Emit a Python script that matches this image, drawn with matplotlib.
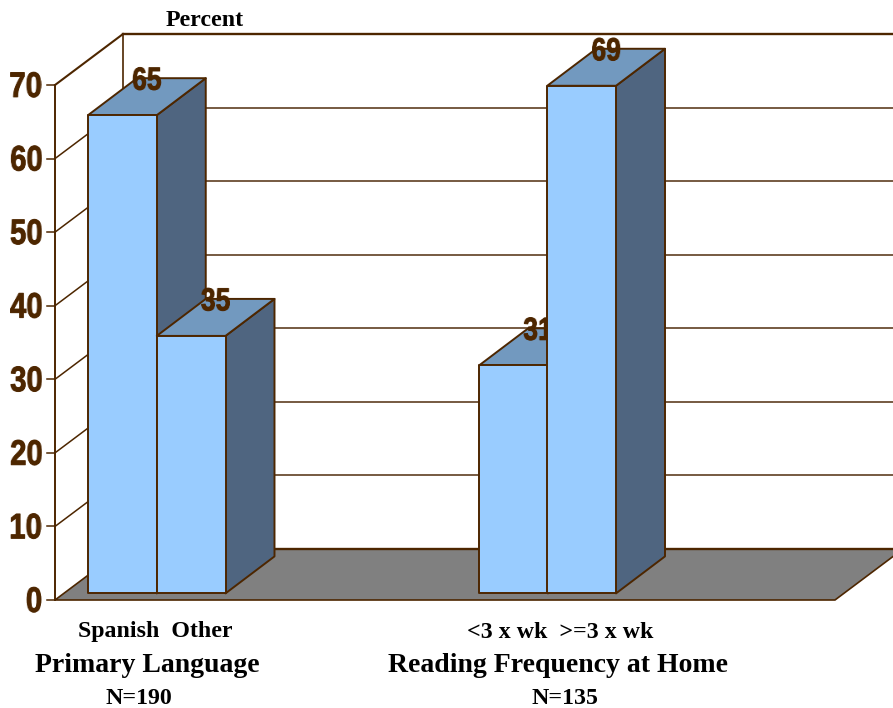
import numpy as np
import matplotlib
matplotlib.use("Agg")
import matplotlib.pyplot as plt
import matplotlib.patheffects as pe
from matplotlib.colors import to_rgb
from matplotlib.patches import Polygon

# Chart data
categories = ["Spanish", "Other", "<3 x wk", ">=3 x wk"]
values = [65, 35, 31, 69]
bar_positions = [0.0, 1.0, 5.69, 6.68]
y_ticks = [0, 10, 20, 30, 40, 50, 60, 70]
group_titles = ["Primary Language", "Reading Frequency at Home"]
group_sizes = ["N=190", "N=135"]

W, H = 893, 708
PX_X = 68.75    # pixels per bar width
PX_Y = 7.357    # pixels per percentage point
ORIGIN_X, ORIGIN_Y = 88, 600

# 3D projection offsets, in data units
WALL_DX, WALL_DY = 68 / PX_X, 51 / PX_Y
BAR_DX, BAR_DY = 49 / PX_X, 37 / PX_Y
BAR_LIFT = 6.6 / PX_Y
WALL_X = (55 - ORIGIN_X) / PX_X
FLOOR_END = (835 - ORIGIN_X) / PX_X

BROWN = "#4D2600"
GRID = "#6B4D33"
FRONT, TOP, SIDE = "#99CCFF", "#7299BF", "#4F6580"
FLOOR = "#808080"
SERIF = "Liberation Serif"
SANS = "Liberation Sans"
NARROWING = 0.83
HEAVIER = [pe.withStroke(linewidth=0.7, foreground=BROWN)]


def squeeze(image, anchor):
    """Compress rendered text horizontally, giving a condensed face."""
    h, w = image.shape[:2]
    new_w = max(1, int(round(w * NARROWING)))
    src = (np.arange(new_w) + 0.5) / NARROWING - 0.5
    alpha = np.array([np.interp(src, np.arange(w), row) for row in image[..., 3]])
    out = np.zeros((h, new_w, 4))
    out[..., :3] = to_rgb(BROWN)
    out[..., 3] = alpha
    return out, int((w - new_w) * anchor), 0


def narrow_centered(image, dpi):
    return squeeze(image, 0.5)


def narrow_right(image, dpi):
    return squeeze(image, 1.0)


fig = plt.figure(figsize=(W / 100, H / 100), dpi=100, facecolor="white")
ax = fig.add_axes([0, 0, 1, 1])
ax.set_xlim(-ORIGIN_X / PX_X, (W - ORIGIN_X) / PX_X)
ax.set_ylim(-(H - ORIGIN_Y) / PX_Y, ORIGIN_Y / PX_Y)
ax.axis("off")

right_edge = ax.get_xlim()[1]
top = y_ticks[-1]

# Walls: back-wall gridlines, side-wall diagonals and front ticks
for t in y_ticks:
    if t > 0:
        ax.plot([WALL_X + WALL_DX, right_edge], [t + WALL_DY] * 2,
                color=BROWN if t == top else GRID, lw=1.7 if t == top else 1.3, zorder=1)
        ax.plot([WALL_X, WALL_X + WALL_DX], [t, t + WALL_DY], color=BROWN,
                lw=1.5 if t == top else 1.1, zorder=1)
    ax.plot([WALL_X - 8 / PX_X, WALL_X], [t, t], color=BROWN, lw=1.1, zorder=1)
    txt = ax.text(WALL_X - 12.5 / PX_X, t + 0.15, str(t), ha="right", va="center_baseline", color=BROWN,
                  family=SANS, fontweight="bold", fontsize=25.5, zorder=1, path_effects=HEAVIER)
    txt.set_agg_filter(narrow_right)
ax.plot([WALL_X, WALL_X], [0, top], color=BROWN, lw=1.4, zorder=1)
ax.plot([WALL_X + WALL_DX] * 2, [WALL_DY, top + WALL_DY], color=BROWN, lw=1.2, zorder=1)

# Floor
ax.add_patch(Polygon([(WALL_X, 0), (FLOOR_END, 0),
                      (FLOOR_END + WALL_DX, WALL_DY), (WALL_X + WALL_DX, WALL_DY)],
                     closed=True, facecolor=FLOOR, edgecolor=BROWN, lw=1.2, zorder=2))
ax.plot([WALL_X + WALL_DX, right_edge], [WALL_DY, WALL_DY], color=BROWN, lw=1.7, zorder=2)

# Bars, painted left to right so each one overlaps the previous value label
for i, (x, v) in enumerate(zip(bar_positions, values)):
    z = 3 + i
    b, t = BAR_LIFT, BAR_LIFT + v
    style = dict(closed=True, edgecolor=BROWN, lw=1.4, joinstyle="round", zorder=z)
    ax.add_patch(Polygon([(x + 1, b), (x + 1 + BAR_DX, b + BAR_DY),
                          (x + 1 + BAR_DX, t + BAR_DY), (x + 1, t)], facecolor=SIDE, **style))
    ax.add_patch(Polygon([(x, t), (x + 1, t), (x + 1 + BAR_DX, t + BAR_DY), (x + BAR_DX, t + BAR_DY)],
                         facecolor=TOP, **style))
    ax.add_patch(Polygon([(x, b), (x + 1, b), (x + 1, t), (x, t)], facecolor=FRONT, **style))
    txt = ax.text(x + 0.5 + BAR_DX / 2, t + BAR_DY, str(v), ha="center", va="center_baseline", color=BROWN,
                  family=SANS, fontweight="bold", fontsize=23, zorder=z + 0.5, path_effects=HEAVIER)
    txt.set_agg_filter(narrow_centered)


def label(px, baseline, text, size):
    fig.text(px / W, 1 - baseline / H, text, ha="center", va="baseline", color="black",
             family=SERIF, fontweight="bold", fontsize=size)


label(204.5, 25.5, "Percent", 17.2)
label(155, 637.5, f"{categories[0]}  {categories[1]}", 17.2)
label(560, 637.5, f"{categories[2]}  {categories[3]}", 17.2)
label(147.5, 672, group_titles[0], 20)
label(558, 672, group_titles[1], 20)
label(138.5, 704.5, group_sizes[0], 17.2)
label(565, 704.5, group_sizes[1], 17.2)

fig.savefig("out.png", dpi=100)
